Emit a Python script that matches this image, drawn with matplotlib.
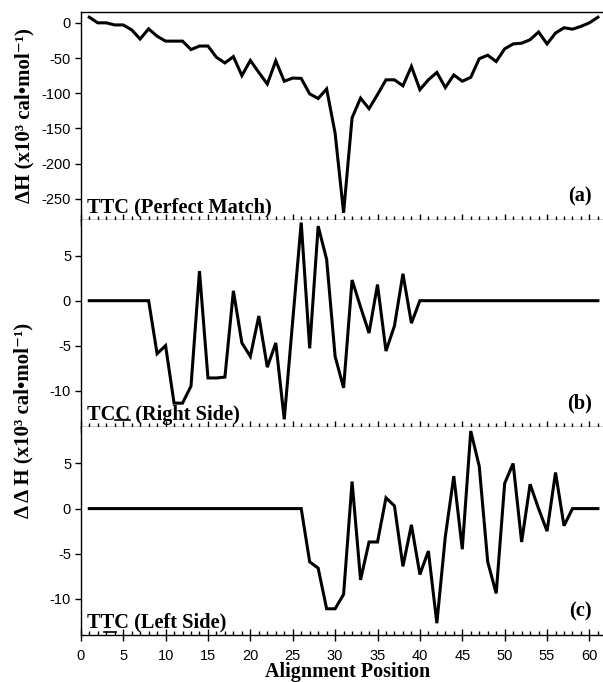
import matplotlib
matplotlib.use("Agg")
import matplotlib.pyplot as plt
from matplotlib.ticker import MultipleLocator

positions = list(range(1, 62))

# panel (a): TTC perfect match, dH (x10^3 cal/mol)
dh_perfect = [8, 0, 0, -3, -3, -10, -23, -8.5, -19, -26,
              -26, -26, -38, -33, -33, -49, -57, -48, -75, -53.5,
              -70.5, -87, -54, -83, -78.5, -79, -101, -107.5, -94, -157,
              -270, -135, -107, -122, -102, -81, -81, -89.5, -62, -95,
              -81, -70.5, -92, -74, -83, -77.5, -51, -46, -55, -37,
              -30, -29, -24, -13, -30, -14.5, -7, -9, -5, 0, 8]

# panel (b): TCC right side, ddH
ddh_right = [0, 0, 0, 0, 0, 0, 0, 0, -5.9, -5.0,
             -11.4, -11.4, -9.5, 3.3, -8.6, -8.6, -8.5, 1.1, -4.7, -6.2,
             -1.7, -7.4, -4.7, -13.2, -2.2, 8.7, -5.3, 8.3, 4.6, -6.2,
             -9.7, 2.3, -0.7, -3.6, 1.8, -5.6, -2.8, 3.0, -2.5, 0,
             0, 0, 0, 0, 0, 0, 0, 0, 0, 0,
             0, 0, 0, 0, 0, 0, 0, 0, 0, 0, 0]

# panel (c): TTC left side, ddH
ddh_left = [0, 0, 0, 0, 0, 0, 0, 0, 0, 0,
            0, 0, 0, 0, 0, 0, 0, 0, 0, 0,
            0, 0, 0, 0, 0, 0, -5.9, -6.6, -11.1, -11.1,
            -9.5, 3.0, -7.9, -3.7, -3.7, 1.2, 0.3, -6.4, -1.8, -7.3,
            -4.7, -12.7, -3.1, 3.6, -4.5, 8.6, 4.7, -5.9, -9.4, 2.8,
            5.0, -3.7, 2.7, 0.0, -2.5, 4.0, -1.9, 0, 0, 0, 0]

series = [dh_perfect, ddh_right, ddh_left]
names = ["TTC (Perfect Match)", "TCC (Right Side)", "TTC (Left Side)"]
tags = ["(a)", "(b)", "(c)"]
ylims = [(-280, 15), (-14.1, 9), (-14, 9)]
yticks = [[0, -50, -100, -150, -200, -250], [5, 0, -5, -10], [5, 0, -5, -10]]

serif = ["Liberation Serif", "DejaVu Serif"]
plt.rcParams['font.family'] = ["Liberation Sans", "DejaVu Sans"]
plt.rcParams['axes.unicode_minus'] = False

fig = plt.figure(figsize=(6.03, 6.82), dpi=100)
gs = fig.add_gridspec(3, 1, left=0.134, right=1.0, top=0.982, bottom=0.069, hspace=0)

axes = []
for k in range(3):
    ax = fig.add_subplot(gs[k])
    ax.plot(positions, series[k], color="black", lw=2.2, solid_joinstyle="miter")
    ax.set_xlim(0, 61.6)
    ax.set_ylim(*ylims[k])
    ax.set_yticks(yticks[k])
    ax.xaxis.set_major_locator(MultipleLocator(5))
    ax.xaxis.set_minor_locator(MultipleLocator(1))
    ax.tick_params(axis="x", which="major", direction="inout", length=8, width=1, pad=6,
                   labelsize=10.5)
    ax.tick_params(axis="x", which="minor", direction="in", length=3, width=1)
    ax.tick_params(axis="y", direction="out", length=4, width=1, pad=3, labelsize=10.5)
    ax.spines["right"].set_visible(False)
    if k > 0:
        ax.spines["top"].set_visible(False)
    if k < 2:
        ax.tick_params(axis="x", labelbottom=False)
    for s in ax.spines.values():
        s.set_linewidth(1)
    ax.text(0.012, 0.012, names[k], transform=ax.transAxes, ha="left", va="bottom",
            fontsize=14.7, fontweight="bold", family=serif)
    ax.text(0.979, 0.065, tags[k], transform=ax.transAxes, ha="right", va="bottom",
            fontsize=14.7, fontweight="bold", family=serif)
    axes.append(ax)

# underline marking the mismatched base
axes[1].plot([0.066, 0.094], [0.035, 0.035], transform=axes[1].transAxes,
             color="black", lw=1.2, clip_on=False)
axes[2].plot([0.045, 0.068], [0.015, 0.015], transform=axes[2].transAxes,
             color="black", lw=1.2, clip_on=False)

fig.text(0.041, 0.83, "\u0394H (x10\u00b3 cal\u2022mol\u207b\u00b9)", rotation=90,
         ha="center", va="center", fontsize=15, fontweight="bold", family=serif)
fig.text(0.039, 0.383, "\u0394 \u0394 H (x10\u00b3 cal\u2022mol\u207b\u00b9)", rotation=90,
         ha="center", va="center", fontsize=15, fontweight="bold", family=serif)
fig.text(0.577, 0.015, "Alignment Position", ha="center", va="center",
         fontsize=14.5, fontweight="bold", family=serif)

fig.savefig("out.png", dpi=100)
